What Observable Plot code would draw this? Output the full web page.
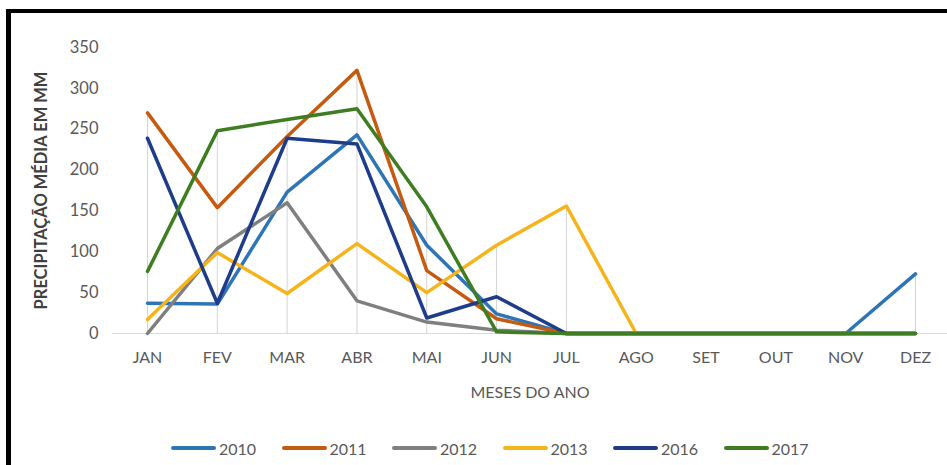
<!DOCTYPE html>
<html>
<head>
<meta charset="utf-8">
<script src="https://cdn.jsdelivr.net/npm/d3@7"></script>
<script src="https://cdn.jsdelivr.net/npm/@observablehq/plot@0.6"></script>
<style>
  html, body { margin: 0; padding: 0; background: #fff; }
  #wrap { position: relative; width: 947px; height: 465px; overflow: hidden; background: #fff; font-family: Lato, "Open Sans", sans-serif; }
  #frame { position: absolute; left: 6px; top: 9px; width: 2000px; height: 2000px; border-top: 4px solid #000; border-left: 5px solid #000; box-sizing: border-box; pointer-events: none; }
  #chart { position: absolute; left: 0; top: 0; }
  #legend { position: absolute; left: 171px; top: 437px; display: flex; }
  .item { width: 110.5px; display: flex; align-items: center; font-size: 16px; color: #595959; height: 22px; }
  .sw { width: 45px; height: 3.5px; border-radius: 2px; margin-right: 3px; }
</style>
</head>
<body>
<div id="wrap">
  <div id="chart"></div>
  <div id="legend"></div>
  <div id="frame"></div>
</div>
<script>
const months = ["JAN","FEV","MAR","ABR","MAI","JUN","JUL","AGO","SET","OUT","NOV","DEZ"];
const years = ["2010","2011","2012","2013","2016","2017"];
const colors = ["#2e75b6","#c55a11","#7f7f7f","#f5b41b","#1f3c88","#3f7d23"];
const yTicks = [0,50,100,150,200,250,300,350];

const v2010 = [37, 36, 173, 243, 108, 24, 0, 0, 0, 0, 0, 73];
const v2011 = [270, 154, 241, 322, 77, 18, 0, 0, 0, 0, 0, 0];
const v2012 = [0, 104, 160, 40, 14, 4, 0, 0, 0, 0, 0, 0];
const v2013 = [17, 99, 49, 110, 50, 108, 156, 0, 0, 0, 0, 0];
const v2016 = [239, 37, 239, 232, 19, 45, 0, 0, 0, 0, 0, 0];
const v2017 = [76, 248, 262, 275, 155, 2, 0, 0, 0, 0, 0, 0];

const series = [v2010, v2011, v2012, v2013, v2016, v2017];
const data = [];
series.forEach((vals, i) => vals.forEach((v, j) => data.push({year: years[i], month: months[j], value: v})));
const maxByMonth = months.map((m, j) => ({month: m, max: d3.max(series, s => s[j])}));

const font = 'Lato, "Open Sans", sans-serif';

const chart = Plot.plot({
  width: 947,
  height: 410,
  marginTop: 47,
  marginBottom: 77,
  marginLeft: 112,
  marginRight: 0,
  style: {fontFamily: font, fontSize: "16px", color: "#595959", background: "transparent"},
  x: {type: "point", domain: months, range: [147, 915], padding: 0, round: false},
  y: {domain: [0, 350]},
  color: {domain: years, range: colors},
  marks: [
    Plot.axisX({tickSize: 0, tickPadding: 18, label: null, fontSize: 16}),
    Plot.axisY({ticks: yTicks, tickSize: 0, tickPadding: 14, label: null, fontSize: 16.5}),
    Plot.ruleX(maxByMonth, {x: "month", y1: 0, y2: "max", stroke: "#d4d4d4", strokeWidth: 1}),
    Plot.ruleY([0], {stroke: "#d9d9d9", strokeWidth: 1.2}),
    Plot.line(data, {x: "month", y: "value", z: "year", stroke: "year", strokeWidth: 3.5, strokeLinejoin: "round", strokeLinecap: "round"}),
    Plot.text(["PRECIPITAÇÃO MÉDIA EM MM"], {frameAnchor: "left", dx: -71, rotate: -90, textAnchor: "middle", lineAnchor: "middle", fontWeight: "bold", fontSize: 16.5, fill: "#404040"}),
    Plot.text(["MESES DO ANO"], {frameAnchor: "bottom", dy: 59, textAnchor: "middle", lineAnchor: "middle", fontSize: 16, fill: "#595959"})
  ]
});
document.getElementById("chart").appendChild(chart);

const legend = document.getElementById("legend");
years.forEach((y, i) => {
  const it = document.createElement("div");
  it.className = "item";
  const sw = document.createElement("span");
  sw.className = "sw";
  sw.style.background = colors[i];
  const t = document.createElement("span");
  t.textContent = y;
  it.appendChild(sw); it.appendChild(t);
  legend.appendChild(it);
});
</script>
</body>
</html>
